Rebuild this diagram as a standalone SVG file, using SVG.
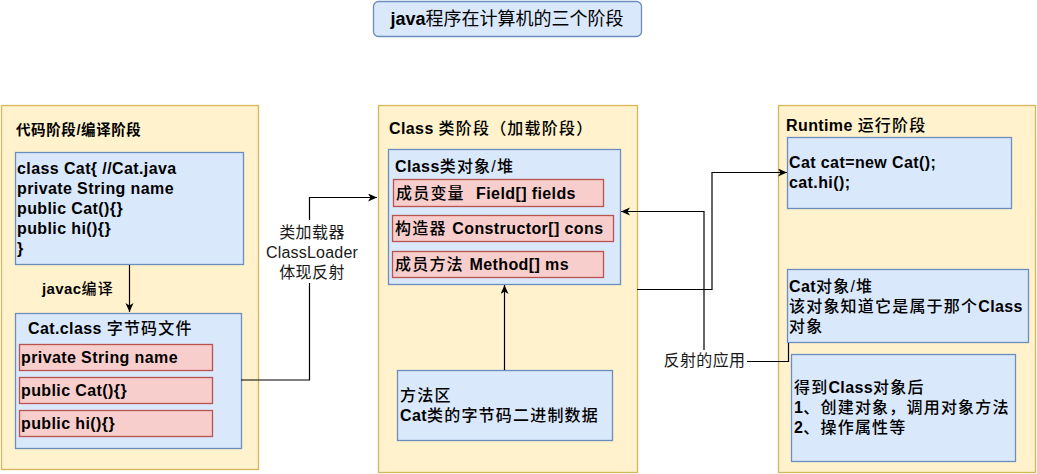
<svg xmlns="http://www.w3.org/2000/svg" width="1037" height="474" viewBox="0 0 1037 474">
<defs>
<marker id="arr" markerUnits="userSpaceOnUse" markerWidth="10" markerHeight="10" refX="9" refY="4" orient="auto">
<path d="M0,0 L9,4 L0,8 L2.5,4 Z" fill="#000"/>
</marker>
<style>
.panel{fill:#fff2cc;stroke:#d6b656;stroke-width:1.3}
.blue{fill:#dae8fc;stroke:#6c8ebf;stroke-width:1.3}
.red{fill:#f8cecc;stroke:#b85450;stroke-width:1.3}
text{font-family:"Liberation Sans","Noto Sans CJK SC",Arial,sans-serif;font-size:16px;fill:#000;letter-spacing:0.4px}
.b{font-weight:bold}
.m{font-weight:500;letter-spacing:1.2px}
.h{font-size:15.5px;font-weight:bold}
.lbl{font-weight:normal;fill:#1a1a1a}
.edge{fill:none;stroke:#000;stroke-width:1.2}
</style>
</defs>

<g id="title">
<rect x="373.5" y="1.5" width="268" height="35" rx="5" class="blue"/>
<text x="507" y="25" text-anchor="middle" style="font-size:18px;letter-spacing:0"><tspan class="b">java</tspan>程序在计算机的三个阶段</text>
</g>

<g id="panel-code">
<rect x="1.5" y="105.5" width="257" height="364" class="panel"/>
<text x="16" y="135" class="h" style="font-size:14.5px;letter-spacing:0.6px">代码阶段/编译阶段</text>
</g>

<g id="node-source">
<rect x="15.5" y="152.5" width="228" height="112" class="blue"/>
<text x="17" y="174" class="b">class Cat{ //Cat.java</text>
<text x="17" y="194" class="b">private String name</text>
<text x="17" y="214" class="b">public Cat(){}</text>
<text x="17" y="234" class="b">public hi(){}</text>
<text x="17" y="254" class="b">}</text>
</g>

<g id="node-bytecode">
<rect x="15.5" y="313.5" width="226" height="135" class="blue"/>
<text x="28" y="334"><tspan class="b">Cat.class </tspan><tspan class="m">字节码文件</tspan></text>
<rect x="19.5" y="344.5" width="193" height="26" class="red"/>
<text x="21" y="363" class="b">private String name</text>
<rect x="19.5" y="377.5" width="193" height="26" class="red"/>
<text x="21" y="396" class="b">public Cat(){}</text>
<rect x="19.5" y="410.5" width="193" height="26" class="red"/>
<text x="21" y="429" class="b">public hi(){}</text>
</g>

<g id="panel-class">
<rect x="378.5" y="105.5" width="259" height="367" class="panel"/>
<text x="389" y="134"><tspan class="b">Class </tspan><tspan class="m">类阶段（加载阶段）</tspan></text>
</g>

<g id="node-classobj">
<rect x="388.5" y="149.5" width="232" height="135" class="blue"/>
<text x="395" y="172"><tspan class="b">Class</tspan><tspan class="m">类对象/堆</tspan></text>
<rect x="393.5" y="179.5" width="210" height="27" class="red"/>
<text x="396" y="199"><tspan class="m">成员变量&#160; </tspan><tspan class="b">Field[] fields</tspan></text>
<rect x="392.5" y="215.5" width="221" height="26" class="red"/>
<text x="395" y="234"><tspan class="m">构造器 </tspan><tspan class="b">Constructor[] cons</tspan></text>
<rect x="392.5" y="251.5" width="211" height="26" class="red"/>
<text x="395" y="270"><tspan class="m">成员方法 </tspan><tspan class="b">Method[] ms</tspan></text>
</g>

<g id="node-methodarea">
<rect x="397.5" y="370.5" width="215" height="70" class="blue"/>
<text x="400" y="401" class="m">方法区</text>
<text x="400" y="421"><tspan class="b">Cat</tspan><tspan class="m">类的字节码二进制数据</tspan></text>
</g>

<g id="panel-runtime">
<rect x="778.5" y="105.5" width="257" height="367" class="panel"/>
<text x="786" y="131"><tspan class="b">Runtime </tspan><tspan class="m">运行阶段</tspan></text>
</g>

<g id="node-newcat">
<rect x="787.5" y="137.5" width="224" height="71" class="blue"/>
<text x="789" y="168" class="b">Cat cat=new Cat();</text>
<text x="789" y="188" class="b">cat.hi();</text>
</g>

<g id="node-catobj">
<rect x="787.5" y="269.5" width="241" height="73" class="blue"/>
<text x="789" y="292"><tspan class="b">Cat</tspan><tspan class="m">对象/堆</tspan></text>
<text x="789" y="312"><tspan class="m">该对象知道它是属于那个</tspan><tspan class="b">Class</tspan></text>
<text x="789" y="332" class="m">对象</text>
</g>

<g id="node-usage">
<rect x="791.5" y="354.5" width="224" height="107" class="blue"/>
<text x="794" y="393"><tspan class="m">得到</tspan><tspan class="b">Class</tspan><tspan class="m">对象后</tspan></text>
<text x="794" y="413"><tspan class="b">1</tspan><tspan class="m">、创建对象，调用对象方法</tspan></text>
<text x="794" y="433"><tspan class="b">2</tspan><tspan class="m">、操作属性等</tspan></text>
</g>

<g id="connectors">
<path class="edge" d="M129.5,265 V312" marker-end="url(#arr)"/>
<text x="42" y="294" class="b" style="font-size:15px">javac<tspan class="m">编译</tspan></text>

<path class="edge" d="M241,380 H309.5 V197.5 H377" marker-end="url(#arr)"/>
<rect x="264" y="220" width="96" height="63" fill="#fff"/>
<text x="312" y="238" text-anchor="middle" class="lbl">类加载器</text>
<text x="312" y="258" text-anchor="middle" class="lbl" style="letter-spacing:0.2px">ClassLoader</text>
<text x="312" y="278" text-anchor="middle" class="lbl">体现反射</text>

<path class="edge" d="M788.5,343 V361.5 H704 V211.5 H621" marker-end="url(#arr)"/>
<rect x="662" y="350" width="85" height="22" fill="#fff"/>
<text x="704.5" y="366" text-anchor="middle" class="lbl">反射的应用</text>

<path class="edge" d="M637,289.5 H712 V172.5 H787" marker-end="url(#arr)"/>

<path class="edge" d="M504.5,370 V285" marker-end="url(#arr)"/>
</g>
</svg>
